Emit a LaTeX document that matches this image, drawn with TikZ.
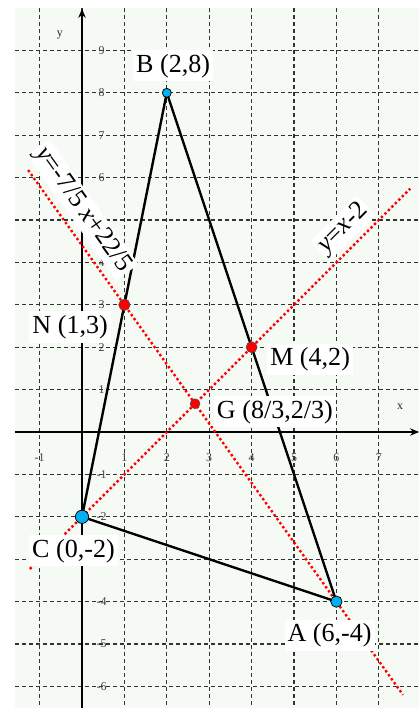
\documentclass[tikz,border=0pt]{standalone}
\usepackage{fontspec}
\setmainfont{Liberation Serif}
\usetikzlibrary{arrows.meta,calc}
\definecolor{ptblue}{RGB}{0,176,240}
\definecolor{bgc}{RGB}{245,250,245}
\begin{document}
\begin{tikzpicture}[x=1cm,y=1cm,
  gridline/.style={draw=black!80, line width=0.75pt, dash pattern=on 2.7pt off 2pt},
  axisline/.style={draw=black, line width=0.7pt, -{Stealth[length=6pt,width=5pt]}},
  ticklab/.style={font=\fontsize{8}{8}\selectfont, text=black!75, inner sep=0pt},
  axislab/.style={font=\fontsize{8}{8}\selectfont, text=black!85, inner sep=0pt},
  median/.style={draw=red, line width=1.6pt, dash pattern=on 1.6pt off 1.7pt},
  side/.style={draw=black, line width=1.6pt},
  vertex/.style={circle, fill=ptblue, draw=black, line width=0.5pt, inner sep=0pt},
  midpt/.style={circle, fill=red, draw=black!70, line width=0.4pt, inner sep=0pt},
  lbl/.style={fill=white, inner xsep=2pt, inner ysep=2.5pt, font=\fontsize{17.5}{17.5}\selectfont}
]
\useasboundingbox (-1.934,-6.509) rectangle (7.948,10.189);
% background
\fill[bgc] (-1.58,-6.509) rectangle (7.948,10.0);
% grid
\foreach \gy in {-6,...,9} \draw[gridline] (-1.58,\gy) -- (7.948,\gy);
\foreach \gx in {-1,...,7} \draw[gridline] (\gx,10.0) -- (\gx,-6.509);
% axes
\draw[axisline] (-1.58,0) -- (7.948,0);
\draw[axisline] (0,-6.509) -- (0,9.98);
% tick labels
\foreach \v [count=\i] in {9,8,7,6,5,4,3,2,1,-1,-2,-3,-4,-5,-6}
  \node[ticklab] (ty\i) at (0.46,\v) {\v};
\foreach \v [count=\i] in {-1,1,2,3,4,5,6,7}
  \node[ticklab] (tx\i) at (\v,-0.6) {\v};
\node[axislab] (xl) at (7.5,0.59) {x};
\node[axislab] (yl) at (-0.52,9.36) {y};
% points
\coordinate (A) at (6,-4);
\coordinate (B) at (2,8);
\coordinate (C) at (0,-2);
\coordinate (N) at (1,3);
\coordinate (M) at (4,2);
\coordinate (G) at (8/3,2/3);
% medians (red dotted)
\draw[median] ($(C)!-0.3075!(M)$) -- ($(C)!1.935!(M)$);
\draw[median] ($(N)!-0.454!(A)$) -- ($(N)!1.314!(A)$);
% triangle
\draw[side, line join=round] (A) -- (B) -- (C) -- cycle;
% point markers
\node[vertex, minimum size=9pt*0.67*1.0] (Bp) at (B) {};
\node[vertex, minimum size=8.9pt] (Cp) at (C) {};
\node[vertex, minimum size=7.6pt] (Ap) at (A) {};
\node[midpt, minimum size=7.6pt] (Np) at (N) {};
\node[midpt, minimum size=7.4pt] (Mp) at (M) {};
\node[midpt, minimum size=6.6pt] (Gp) at (G) {};
% labels
\node[lbl, anchor=base] (Bl) at (2.15,8.49) {B (2,8)};
\node[lbl, anchor=base] (Nl) at (-0.28,2.33) {N (1,3)};
\node[lbl, anchor=base] (Ml) at (5.38,1.56) {M (4,2)};
\node[lbl, anchor=base] (Gl) at (4.55,0.33) {G (8/3,2/3)};
\node[lbl, anchor=base] (Cl) at (-0.2,-2.95) {C (0,-2)};
\node[lbl, anchor=base] (Al) at (5.84,-4.95) {A (6,-4)};
\node[lbl, rotate=-54.46, inner ysep=1.5pt] (L1) at (0.02,5.24) {\textit{y}=-7/5 \textit{x}+22/5};
\node[lbl, rotate=45, inner ysep=1.5pt] (L2) at (6.16,4.81) {\textit{y}=\textit{x}-2};
\end{tikzpicture}
\end{document}
